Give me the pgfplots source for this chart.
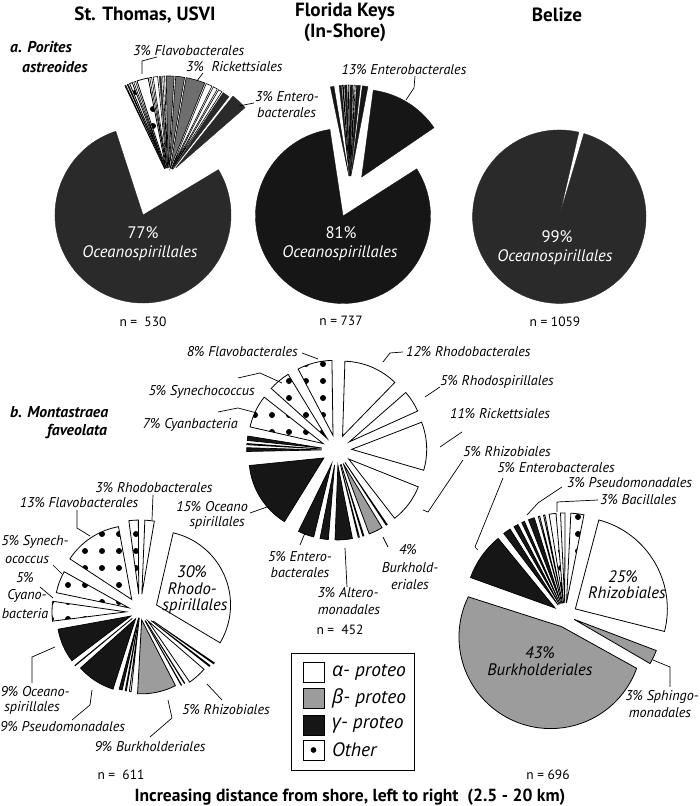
\documentclass[border=0pt]{standalone}
\usepackage{fontspec}
\setmainfont{PT Sans}
\newfontfamily\grk{Open Sans}
\usepackage{pgfplots}
\pgfplotsset{compat=1.18}
\usetikzlibrary{patterns.meta}

\definecolor{kA}{HTML}{2A2A2A}
\definecolor{kB}{HTML}{161616}
\definecolor{gA}{HTML}{6E6E6E}
\definecolor{gB}{HTML}{9C9C9C}

\tikzset{
 kAS/.style={fill=kA, draw=kA, line width=0.4pt},
 kBS/.style={fill=kB, draw=kB, line width=0.4pt},
 kS/.style={fill=kB, draw=black, line width=0.7pt},
 gAS/.style={fill=gA, draw=black, line width=0.6pt},
 gS/.style={fill=gB, draw=black, line width=0.8pt},
 wS/.style={fill=white, draw=black, line width=0.8pt},
 wtS/.style={fill=white, draw=black, line width=0.6pt},
 dS/.style={fill=white, draw=black, line width=0.8pt, postaction={pattern={Dots[radius=3bp, distance=17bp]}, pattern color=black}},
 lab/.style={font=\fontsize{14.2}{16}\selectfont\itshape, inner sep=0pt},
 inl/.style={font=\fontsize{16.7}{18}\selectfont\itshape, inner sep=0pt},
 inu/.style={font=\fontsize{16.7}{18}\selectfont, inner sep=0pt},
 nn/.style={font=\fontsize{13.5}{15}\selectfont, inner sep=0pt},
 ttl/.style={font=\fontsize{19.2}{21}\selectfont\bfseries, inner sep=0pt},
 sub/.style={font=\fontsize{15.8}{18}\selectfont\bfseries\itshape, inner sep=0pt, anchor=west},
 ld/.style={draw=black, line width=0.7pt},
 leg/.style={font=\fontsize{19.5}{21}\selectfont\itshape, anchor=west, inner sep=0pt},
}

% slice: cx cy r a b explode vertexpush style
\newcommand{\pslice}[8]{%
  \pgfmathsetmacro{\slM}{(#4+#5)/2}%
  \pgfmathsetmacro{\slA}{#4+\sltrim}%
  \pgfmathsetmacro{\slB}{#5-\sltrim}%
  \pgfmathsetmacro{\slCx}{#1+#6*cos(\slM)}%
  \pgfmathsetmacro{\slCy}{#2+#6*sin(\slM)}%
  \pgfmathsetmacro{\slVx}{\slCx+#7*cos(\slM)}%
  \pgfmathsetmacro{\slVy}{\slCy+#7*sin(\slM)}%
  \pgfmathsetmacro{\slSx}{\slCx+#3*cos(\slA)}%
  \pgfmathsetmacro{\slSy}{\slCy+#3*sin(\slA)}%
  \edef\sltmp{\noexpand\path[#8] (axis cs:\slVx,\slVy) -- (axis cs:\slSx,\slSy) arc[start angle=\slA, end angle=\slB, radius=#3bp] -- cycle;}%
  \sltmp}
% slice with explicit vertex: vx vy cx cy r a b style
\newcommand{\pslicev}[8]{%
  \pgfmathsetmacro{\slSx}{#3+#5*cos(#6)}%
  \pgfmathsetmacro{\slSy}{#4+#5*sin(#6)}%
  \edef\sltmp{\noexpand\path[#8] (axis cs:#1,#2) -- (axis cs:\slSx,\slSy) arc[start angle=#6, end angle=#7, radius=#5bp] -- cycle;}%
  \sltmp}

\begin{document}
\begin{tikzpicture}
\begin{axis}[width=700bp, height=806bp, scale only axis, xmin=0, xmax=700, ymin=0, ymax=806, hide axis, clip=false]

% ---------- Pie 1: St. Thomas, Porites ----------
\def\sltrim{0}
\pslice{143}{591}{88}{108}{391}{0}{0}{kAS}
\def\sltrim{0.45}
\pslice{168}{630}{100}{114.5}{116}{0}{8}{wtS}
\pslice{168}{630}{100}{113}{114.5}{0}{8}{wtS}
\pslice{168}{630}{100}{110.5}{113}{0}{8}{dS}
\pslice{168}{630}{100}{108.5}{110.5}{0}{8}{wtS}
\pslice{168}{630}{100}{101}{108.5}{0}{8}{dS}
\pslice{168}{630}{100}{99}{101}{0}{8}{wtS}
\pslice{168}{630}{100}{95.5}{99}{0}{8}{wtS}
\pslice{168}{630}{100}{93.5}{95.5}{0}{8}{kAS}
\pslice{168}{630}{100}{91.5}{93.5}{0}{8}{wtS}
\pslice{168}{630}{100}{86}{91.5}{0}{8}{gAS}
\pslice{168}{630}{100}{80}{86}{0}{8}{gAS}
\pslice{168}{630}{100}{68}{80}{0}{8}{gAS}
\pslice{168}{630}{100}{63.5}{68}{0}{8}{wtS}
\pslice{168}{630}{100}{60}{63.5}{0}{8}{wtS}
\pslice{168}{630}{100}{57}{60}{0}{8}{wtS}
\pslice{168}{630}{100}{52}{57}{0}{8}{kAS}
\pslice{168}{630}{100}{41}{51.5}{3}{8}{kAS}

% ---------- Pie 2: Florida Keys, Porites ----------
\def\sltrim{0}
\pslice{343}{590}{87.5}{98.6}{392.6}{0}{0}{kBS}
\pslice{361.7}{629}{87.5}{34.3}{82.4}{0}{0}{kBS}
\def\sltrim{0.35}
\pslice{350}{624}{97}{99.2}{102}{0}{6}{kBS}
\pslice{350}{624}{97}{94.8}{96.8}{0}{6}{kBS}
\pslice{350}{624}{97}{93.6}{94.8}{0}{6}{wtS}
\pslice{350}{624}{97}{91.5}{93.6}{0}{6}{kBS}
\pslice{350}{624}{97}{90.2}{91.5}{0}{6}{wtS}
\pslice{350}{624}{97}{88}{90.2}{0}{6}{kBS}
\pslice{350}{624}{97}{86.5}{88}{0}{6}{wtS}
\pslice{350}{624}{97}{83.5}{86.5}{0}{6}{kBS}
\pslice{350}{624}{97}{79}{83}{0}{6}{kBS}

% ---------- Pie 3: Belize, Porites ----------
\def\sltrim{0}
\pslice{559.3}{589.3}{86.7}{77}{433.5}{0}{0}{kAS}

% ---------- Pie 4: St. Thomas, Montastraea ----------
\def\sltrim{0.8}
\pslice{140}{194}{74}{-31.6}{77.8}{18}{0}{wS}
\pslice{140}{194}{74}{79.5}{88.5}{18}{0}{wS}
\pslice{140}{194}{74}{89.5}{98.5}{18}{0}{dS}
\pslice{140}{194}{74}{99.5}{147.5}{15}{0}{dS}
\pslice{140}{194}{74}{150}{169}{12}{0}{dS}
\pslice{140}{194}{74}{171}{188}{14}{0}{dS}
\pslice{140}{194}{74}{189.5}{218}{10}{0}{kS}
\pslice{140}{194}{74}{218.5}{220.5}{10}{0}{wS}
\pslice{140}{194}{74}{221}{253}{8}{0}{kS}
\pslice{140}{194}{74}{254}{258}{6}{0}{kS}
\pslice{140}{194}{74}{258.5}{261}{6}{0}{wS}
\pslice{140}{194}{74}{261.5}{264.5}{6}{0}{wS}
\pslice{140}{194}{74}{266}{298}{8}{0}{gS}
\pslice{140}{194}{74}{298.5}{300.5}{10}{0}{wS}
\pslice{140}{194}{74}{301}{303}{10}{0}{wS}
\pslice{140}{194}{74}{303.5}{320}{12}{0}{wS}
\pslice{140}{194}{74}{321}{323.5}{14}{0}{wS}
\pslice{140}{194}{74}{324}{326.5}{16}{0}{wS}

% ---------- Pie 5: Florida Keys, Montastraea ----------
\pslice{336.7}{356}{75}{45}{89}{15}{0}{wS}
\pslice{336.7}{356}{75}{90}{118.5}{15}{0}{dS}
\pslice{336.7}{356}{75}{120.5}{139}{15}{0}{dS}
\pslice{336.7}{356}{75}{141}{168}{15}{0}{dS}
\pslice{336.7}{356}{75}{170}{175}{15}{0}{kS}
\pslice{336.7}{356}{75}{175}{177.5}{15}{0}{wS}
\pslice{336.7}{356}{75}{177.5}{182}{15}{0}{kS}
\pslice{336.7}{356}{75}{185}{239}{15}{0}{kS}
\pslice{336.7}{356}{75}{243}{257}{15}{0}{kS}
\pslice{336.7}{356}{75}{258}{266}{15}{0}{kS}
\pslice{336.7}{356}{75}{267}{282}{15}{0}{kS}
\pslice{336.7}{356}{75}{283}{285.5}{15}{0}{wS}
\pslice{336.7}{356}{75}{286}{288.5}{15}{0}{wS}
\pslice{336.7}{356}{75}{289.5}{302}{15}{0}{gS}
\pslice{336.7}{356}{75}{302.5}{305}{15}{0}{wS}
\pslice{336.7}{356}{75}{307}{339}{15}{0}{wS}
\pslice{336.7}{356}{75}{343}{382}{15}{0}{wS}
\pslice{336.7}{356}{75}{383.5}{402}{15}{0}{wS}

% ---------- Pie 6: Belize, Montastraea ----------
\pslice{565}{191}{92}{-15}{76}{12}{0}{wS}
\pslice{565}{191}{90}{78}{88}{12}{0}{dS}
\pslice{565}{191}{90}{89}{93.5}{12}{0}{wS}
\pslice{565}{191}{90}{94}{100}{12}{0}{dS}
\pslice{565}{191}{90}{100.5}{103}{12}{0}{wS}
\pslice{565}{191}{90}{103.5}{106}{12}{0}{wS}
\pslice{565}{191}{90}{106.5}{112}{12}{0}{kS}
\pslice{565}{191}{90}{112.5}{116}{12}{0}{kS}
\pslice{565}{191}{90}{116.5}{121}{12}{0}{kS}
\pslice{565}{191}{90}{121.5}{128}{12}{0}{kS}
\pslice{565}{191}{90}{128.5}{161}{12}{0}{kS}
\pslice{565}{191}{88}{329}{340}{10}{0}{gS}
\pslicev{561.7}{179.3}{550.6}{169}{91.6}{154}{340}{gS}

% ---------- Titles ----------
\node[ttl] at (axis cs:145,791) {St. Thomas, USVI};
\node[ttl] at (axis cs:345,794) {Florida Keys};
\node[ttl] at (axis cs:345,773) {(In-Shore)};
\node[ttl] at (axis cs:557,791) {Belize};
\node[sub] at (axis cs:10,759) {a. Porites};
\node[sub] at (axis cs:22,739) {astreoides};
\node[sub] at (axis cs:10,394) {b. Montastraea};
\node[sub] at (axis cs:47,374) {faveolata};

% n labels
\node[nn] at (axis cs:143,484) {n = \ 530};
\node[nn] at (axis cs:341,485) {n = 737};
\node[nn] at (axis cs:555,484) {n = 1059};
\node[nn] at (axis cs:121,31) {n = \ 611};
\node[nn] at (axis cs:340,176) {n = \ 452};
\node[nn] at (axis cs:548,31) {n = 696};
\node[font=\fontsize{17.6}{19}\selectfont\bfseries, inner sep=0pt] at (axis cs:350,9) {Increasing distance from shore, left to right\ \ (2.5 - 20 km)};

% inner labels top
\node[inu, text=white] at (axis cs:143,573) {77\%};
\node[inl, text=white] at (axis cs:140,553) {Oceanospirillales};
\node[inu, text=white] at (axis cs:341,573) {81\%};
\node[inl, text=white] at (axis cs:340,553) {Oceanospirillales};
\node[inu, text=white] at (axis cs:557,569) {99\%};
\node[inl, text=white] at (axis cs:555,549) {Oceanospirillales};

% pie 1 labels
\node[lab, anchor=west] at (axis cs:133,755) {3\% Flavobacterales};
\node[lab, anchor=west] at (axis cs:186,739) {3\%\ \ Rickettsiales};
\node[lab, anchor=west] at (axis cs:255,709) {3\% Entero-};
\node[lab, anchor=west] at (axis cs:257,693) {bacterales};
\node[lab] at (axis cs:404,736) {13\% Enterobacterales};
\draw[ld] (axis cs:157,749) -- (axis cs:142,745) -- (axis cs:142,732);
\draw[ld] (axis cs:203,733) -- (axis cs:197,725);
\draw[ld] (axis cs:254,703) -- (axis cs:239,700);
\draw[ld] (axis cs:415,730) -- (axis cs:414,718) -- (axis cs:406,706);

% pie 4 labels
\node[lab] at (axis cs:154,318) {3\% Rhodobacterales};
\node[lab] at (axis cs:79,303) {13\% Flavobacterales};
\node[lab] at (axis cs:35,264) {5\% Synech-};
\node[lab] at (axis cs:27,246) {ococcus};
\node[lab] at (axis cs:25,228) {5\%};
\node[lab] at (axis cs:27,210) {Cyano-};
\node[lab] at (axis cs:25,192) {bacteria};
\node[lab] at (axis cs:35,114) {9\% Oceano-};
\node[lab] at (axis cs:32,98) {spirillales};
\node[lab, anchor=west] at (axis cs:0,79) {9\% Pseudomonadales};
\node[lab] at (axis cs:150,59) {9\% Burkholderiales};
\node[lab, anchor=west] at (axis cs:182,96) {5\% Rhizobiales};
\node[inl] at (axis cs:192,234) {30\%};
\node[inl] at (axis cs:192,217) {Rhodo-};
\node[inl] at (axis cs:195,200) {spirillales};
\draw[ld] (axis cs:153,311) -- (axis cs:152,286);
\draw[ld] (axis cs:77,296) -- (axis cs:77,278) -- (axis cs:90,270);
\draw[ld] (axis cs:53,241) -- (axis cs:62,232);
\draw[ld] (axis cs:40,219) -- (axis cs:53,208);
\draw[ld] (axis cs:32,123) -- (axis cs:32,149) -- (axis cs:55,159);
\draw[ld] (axis cs:72,86) -- (axis cs:90,101) -- (axis cs:92,116);
\draw[ld] (axis cs:150,69) -- (axis cs:172,88) -- (axis cs:168,106);
\draw[ld] (axis cs:222,106) -- (axis cs:207,122);

% pie 5 labels
\node[lab, anchor=east] at (axis cs:248,299) {15\% Oceano};
\node[lab, anchor=east] at (axis cs:245,283) {spirillales};
\node[lab, anchor=east] at (axis cs:298,454) {8\% Flavobacterales};
\node[lab, anchor=east] at (axis cs:255,414) {5\% Synechococcus};
\node[lab, anchor=east] at (axis cs:238,381) {7\% Cyanbacteria};
\node[lab, anchor=west] at (axis cs:406,454) {12\% Rhodobacterales};
\node[lab, anchor=west] at (axis cs:440,424) {5\% Rhodospirillales};
\node[lab, anchor=west] at (axis cs:450,392) {11\% Rickettsiales};
\node[lab, anchor=west] at (axis cs:463,354) {5\% Rhizobiales};
\node[lab] at (axis cs:300,249) {5\% Entero-};
\node[lab] at (axis cs:300,233) {bacterales};
\node[lab] at (axis cs:348,213) {3\% Altero-};
\node[lab] at (axis cs:349,196) {monadales};
\node[lab] at (axis cs:408,256) {4\%};
\node[lab] at (axis cs:410,238) {Burkhold-};
\node[lab] at (axis cs:410,221) {eriales};
\draw[ld] (axis cs:250,293) -- (axis cs:267,299);
\draw[ld] (axis cs:302,453) -- (axis cs:318,447);
\draw[ld] (axis cs:238,428) -- (axis cs:260,433) -- (axis cs:282,423);
\draw[ld] (axis cs:218,394) -- (axis cs:238,398) -- (axis cs:257,393);
\draw[ld] (axis cs:383,444) -- (axis cs:390,453) -- (axis cs:403,454);
\draw[ld] (axis cs:425,409) -- (axis cs:440,419);
\draw[ld] (axis cs:440,359) -- (axis cs:462,374);
\draw[ld] (axis cs:463,346) -- (axis cs:428,294) -- (axis cs:423,296);
\draw[ld] (axis cs:300,261) -- (axis cs:305,273);
\draw[ld] (axis cs:347,219) -- (axis cs:345,258);
\draw[ld] (axis cs:388,259) -- (axis cs:383,269);

% pie 6 labels
\node[lab] at (axis cs:556,338) {5\% Enterobacterales};
\node[lab, anchor=west] at (axis cs:567,323) {3\% Pseudomonadales};
\node[lab, anchor=west] at (axis cs:600,306) {3\% Bacillales};
\node[inl] at (axis cs:623,229) {25\%};
\node[inl] at (axis cs:627,213) {Rhizobiales};
\node[inl] at (axis cs:540,153) {43\%};
\node[inl] at (axis cs:540,136) {Burkholderiales};
\node[lab] at (axis cs:662,109) {3\% Sphingo-};
\node[lab] at (axis cs:660,93) {monadales};
\draw[ld] (axis cs:503,328) -- (axis cs:475,259) -- (axis cs:478,256);
\draw[ld] (axis cs:562,319) -- (axis cs:538,303) -- (axis cs:527,291);
\draw[ld] (axis cs:598,306) -- (axis cs:557,304) -- (axis cs:557,294);
\draw[ld] (axis cs:653,146) -- (axis cs:670,139) -- (axis cs:670,119);

% legend
\draw[line width=0.9pt] (axis cs:291,36) rectangle (axis cs:414,153);
\path[wS] (axis cs:303,124) rectangle (axis cs:324,144);
\path[gS] (axis cs:303,98) rectangle (axis cs:324,118);
\path[kS] (axis cs:303,71) rectangle (axis cs:324,91);
\path[wS] (axis cs:303,46) rectangle (axis cs:324,66);
\addplot[only marks, mark=*, mark size=2.6bp, black] coordinates {(313.5,56)};
\node[leg] at (axis cs:332,134) {{\grk α}- proteo};
\node[leg] at (axis cs:332,108) {{\grk β}- proteo};
\node[leg] at (axis cs:332,81) {{\grk γ}- proteo};
\node[leg] at (axis cs:332,56) {Other};
\end{axis}
\pgfresetboundingbox
\path (0,0) rectangle (700bp,806bp);
\end{tikzpicture}
\end{document}
